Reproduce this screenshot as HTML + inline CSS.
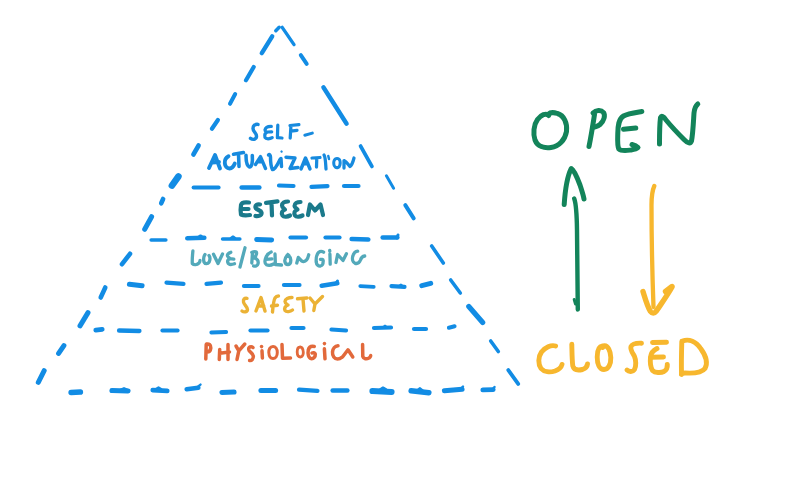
<!DOCTYPE html>
<html><head><meta charset="utf-8"><title>Pyramid open closed</title>
<style>
html,body{margin:0;padding:0;background:#fff;}
body{width:800px;height:483px;overflow:hidden;font-family:"Liberation Sans",sans-serif;}
svg{display:block;}
</style></head>
<body>
<svg width="800" height="483" viewBox="0 0 800 483">
<rect width="800" height="483" fill="#ffffff"/>
<g fill="none" stroke="#128ce4" stroke-linecap="round" stroke-linejoin="round">
<path d="M279.2,27.3L275.8,30.7" stroke-width="3.5"/>
<path d="M272.2,36.4L261.8,53.1" stroke-width="4.4"/>
<path d="M253.7,67.0L246.0,80.3" stroke-width="4.2"/>
<path d="M235.2,94.0L230.0,103.8" stroke-width="4.0"/>
<path d="M217.9,120.0L211.9,128.8" stroke-width="4.2"/>
<path d="M198.6,145.5L193.4,154.5" stroke-width="4.6"/>
<path d="M178.4,176.5L171.9,185.6" stroke-width="6.6"/>
<path d="M163.1,199.0L161.2,203.3" stroke-width="4.6"/>
<path d="M151.6,216.7L144.7,229.3" stroke-width="5"/>
<path d="M130.0,253.8L122.0,264.2" stroke-width="4.6"/>
<path d="M105.3,287.5L100.7,297.5" stroke-width="4.6"/>
<path d="M88.0,312.6L80.0,325.9" stroke-width="5"/>
<path d="M63.9,345.6L58.6,353.4" stroke-width="5"/>
<path d="M44.2,370.7L38.3,382.3" stroke-width="5"/>
<path d="M282.2,27.4L294.0,44.6" stroke-width="3.4"/>
<path d="M300.8,55.2L306.7,63.8" stroke-width="4"/>
<path d="M323.4,87.3L346.6,123.7" stroke-width="4.4"/>
<path d="M360.6,146.1L371.9,166.4" stroke-width="3.8"/>
<path d="M386.4,175.8L393.6,188.2" stroke-width="3"/>
<path d="M405.3,205.2L413.7,218.3" stroke-width="4"/>
<path d="M431.7,246.0L443.3,263.0" stroke-width="3.6"/>
<path d="M450.7,280.0L460.3,293.0" stroke-width="3.6"/>
<path d="M468.8,306.5L482.7,322.5" stroke-width="5.2"/>
<path d="M490.7,341.0L498.3,351.5" stroke-width="3.6"/>
<path d="M508.3,370.1L518.2,383.9" stroke-width="3.8"/>
<path d="M193.6,187.5L218.6,187.5" stroke-width="4.0"/>
<path d="M241.7,187.5L259.3,187.5" stroke-width="4.6"/>
<path d="M279.0,185.5L293.5,186.0" stroke-width="4.2"/>
<path d="M311.5,186.9L327.5,186.1" stroke-width="4.2"/>
<path d="M344.0,186.0L358.5,186.0" stroke-width="4.2"/>
<path d="M151.1,240.0L165.9,240.0" stroke-width="3.4"/>
<path d="M187.3,238.3L204.3,237.8" stroke-width="4.6"/>
<path d="M222.6,239.0L239.8,239.0" stroke-width="3.6"/>
<path d="M256.7,239.4L271.6,239.9" stroke-width="5.0"/>
<path d="M290.5,237.5L306.0,237.5" stroke-width="4.2"/>
<path d="M325.5,237.5L339.5,237.5" stroke-width="4.2"/>
<path d="M351.7,239.0L368.3,239.5" stroke-width="4.6"/>
<path d="M382.7,237.5L397.3,237.5" stroke-width="4.6"/>
<path d="M129.4,284.2L142.1,285.8" stroke-width="5"/>
<path d="M166.5,282.6L183.5,283.9" stroke-width="4.2"/>
<path d="M206.5,283.9L221.0,282.6" stroke-width="4.2"/>
<path d="M243.8,286.0L258.7,286.0" stroke-width="3.8"/>
<path d="M283.8,285.0L299.7,285.0" stroke-width="3.8"/>
<path d="M321.7,285.7L337.3,283.3" stroke-width="4.6"/>
<path d="M360.2,286.1L373.8,286.9" stroke-width="3.6"/>
<path d="M391.5,286.1L404.5,286.9" stroke-width="4.2"/>
<path d="M421.8,285.6L430.7,283.4" stroke-width="5"/>
<path d="M95.8,330.2L102.2,329.3" stroke-width="4.8"/>
<path d="M119.1,330.5L139.4,331.0" stroke-width="4.4"/>
<path d="M162.3,330.5L177.7,330.5" stroke-width="3.8"/>
<path d="M211.3,332.5L226.2,332.0" stroke-width="3.8"/>
<path d="M250.5,330.5L267.5,330.5" stroke-width="4.2"/>
<path d="M291.5,328.0L303.5,328.0" stroke-width="4.2"/>
<path d="M331.4,329.6L346.1,330.4" stroke-width="4"/>
<path d="M374.0,328.0L391.0,327.5" stroke-width="4.2"/>
<path d="M414.0,329.0L426.0,329.0" stroke-width="4.2"/>
<path d="M448.9,327.7L454.6,326.3" stroke-width="4"/>
<path d="M71.1,392.4L80.4,392.1" stroke-width="5.5"/>
<path d="M111.9,390.5L128.1,391.0" stroke-width="5"/>
<path d="M152.7,390.1L167.3,390.9" stroke-width="4.6"/>
<path d="M186.7,389.3L198.3,387.7" stroke-width="4.6"/>
<path d="M221.9,392.4L234.1,392.1" stroke-width="5"/>
<path d="M260.9,390.5L275.6,390.5" stroke-width="5"/>
<path d="M299.1,389.6L317.4,390.9" stroke-width="4.4"/>
<path d="M332.6,390.5L347.4,390.5" stroke-width="4.4"/>
<path d="M372.4,391.1L391.6,391.9" stroke-width="6"/>
<path d="M411.1,390.7L428.9,392.8" stroke-width="5.4"/>
<path d="M444.4,390.8L462.1,389.2" stroke-width="5"/>
<path d="M482.7,389.9L493.3,389.6" stroke-width="4.6"/>
<path d="M397,238L398,235" stroke-width="3"/>
<path d="M336,283.5L337.5,281" stroke-width="3"/>
<path d="M198,237.2L200.5,235.6L202.5,237" stroke-width="2.4"/>
<path d="M231,238L233,236.6L235,238" stroke-width="2.4"/>
<path d="M383,327.5L385,325.8L387,327.5" stroke-width="2.4"/>
<path d="M380,389.5L383,387.6L386,389.3" stroke-width="2.4"/>
<path d="M460.5,389L463,386.5" stroke-width="2.4"/>
<path d="M492.5,389.5L494.5,387" stroke-width="2.4"/>
<path d="M121,389.5L124,388.3L127,389.5" stroke-width="2.4"/>
<path d="M156,389L158.5,387.5L161,389" stroke-width="2.4"/>
<path d="M417.5,390.3L420,388.3L422.5,390.5" stroke-width="2.4"/>
<path d="M198.5,386.2L200.5,384.6" stroke-width="2.4"/>
<path d="M399,286.3L401,284.8L403,286.5" stroke-width="2.4"/>
</g>
<g fill="none" stroke-linecap="round" stroke-linejoin="round">
<path d="M258,124.4 C255,124 253,125.5 253,128.5 C253,131.5 256.3,133 256.5,136 C256.7,139 253.5,140.5 250.5,138.3" stroke="#178ade" stroke-width="3.45" />
<path d="M271.3,126.4 C268,126.3 265.5,127.5 265,129.8 C264.8,131.3 266.5,132 267.5,132 C265,133 264.3,135 265,137.5 C266,139.3 270,139 272.2,137.7 M267.5,132 L271.7,131.8" stroke="#178ade" stroke-width="3.25" />
<path d="M277.8,125.2 L277.4,137.7 L282,138" stroke="#178ade" stroke-width="3.25" />
<path d="M290.9,126.5 L290.2,138 M290,125.5 L298.9,124.6 M290.9,131.1 L297,130.3" stroke="#178ade" stroke-width="3.25" />
<path d="M304.8,135.2 L312.3,133.1" stroke="#178ade" stroke-width="3.05" />
<path d="M209,168 L215,155 L220,168.5 M212,162.5 L219,162" stroke="#178ade" stroke-width="3.85" />
<path d="M228.5,156.2 C226,157.5 224.6,160 224.8,163 C225,166.5 227,168.5 229.5,168.5 C232,168.3 233.8,166 234.8,163.5" stroke="#178ade" stroke-width="3.85" />
<path d="M233.5,154.2 L243.5,152.6 M238.5,153.8 L239,166.5" stroke="#178ade" stroke-width="3.55" />
<path d="M246,155.3 C246,161 246.5,166 249.5,167 C252,167 252.8,162 252.3,155.5" stroke="#178ade" stroke-width="3.55" />
<path d="M255.5,164.5 L260.5,156.6 L265.5,168.5 M257.8,161.8 L262.6,161.5" stroke="#178ade" stroke-width="3.35" />
<path d="M268.5,155 C269.5,154 270.5,155 270.5,157 C270.5,161 271,167 272.5,169.5 C274,170 276.5,167 280,159.5" stroke="#178ade" stroke-width="3.45" />
<path d="M281,158.5 L281.5,166.5" stroke="#178ade" stroke-width="3.45" />
<path d="M281.5,151.5 L281.6,151.6" stroke="#178ade" stroke-width="2.25" />
<path d="M286,157.2 L295,158 L290,168.5 L298,167.5" stroke="#178ade" stroke-width="3.45" />
<path d="M301,169 L305.5,158 L310,169 M303,164 L308,163.5" stroke="#178ade" stroke-width="3.45" />
<path d="M312,158 L320,157.5 M316.8,158 L316.5,167" stroke="#178ade" stroke-width="3.25" />
<path d="M324,155 C325.5,157 325.5,162 326,169" stroke="#178ade" stroke-width="3.25" />
<path d="M328.3,156 L329,159" stroke="#178ade" stroke-width="2.45" />
<path d="M337,158.5 C334,158.5 333.5,162 333.8,164 C334,167 336,168 338,167.5 C340,167 340.5,163 340,161 C339.5,159 338,158.5 337,158.5" stroke="#178ade" stroke-width="3.05" />
<path d="M344,168 L344,160.5 C347,162 349,166 350,166.5 C352,165 353.5,160 354,158" stroke="#178ade" stroke-width="3.25" />
<path d="M249,202.5 C245,202 241.5,202.5 241,205 C240.5,208 240.5,212 241,214.5 C243,215.5 247,215.5 250,215 M242.5,209 L248.5,209" stroke="#1b7a8b" stroke-width="4.2" />
<path d="M260,204.5 C257,204 255,205.5 255.5,207.5 C256,210 261,210 261.5,212.5 C262,215.5 258,216.5 255.5,216" stroke="#1b7a8b" stroke-width="4.2" />
<path d="M266,202.8 L277.5,201.3 M271.5,202.5 L272,215.5" stroke="#1b7a8b" stroke-width="4.2" />
<path d="M288,201.5 C284.5,201.5 282,203 282,205.5 C282,208 285,209 285,209.5 C282,210.5 281,213 282.5,215.5 C284,217.5 288,216.5 290,215.5" stroke="#1b7a8b" stroke-width="4.2" />
<path d="M300.5,202 C297,202 294.5,203.5 294.5,206 C294.5,208 297.5,209 297.5,209.5 C294.5,210.5 293.5,213 295,215.5 C296.5,217.5 300.5,216.5 302.5,215.5" stroke="#1b7a8b" stroke-width="4.2" />
<path d="M308,215 L310,204.5 L315,210.5 L320.5,204.5 L323,215" stroke="#1b7a8b" stroke-width="4.2" />
<path d="M192.9,250.8 C192.5,255 192,260 192.3,263.5 C194,265.3 197,264.8 199,263 C199.8,262 200,261 200,260.5" stroke="#53a9ba" stroke-width="3.3" />
<path d="M205,254.5 C203.5,256.5 203.5,260 204,262 C205,264.3 207.8,264.2 209.2,262 C210.2,259.5 209.8,256.5 209,255.5" stroke="#53a9ba" stroke-width="3.3" />
<path d="M213.5,254.2 L218,263.5 L222.5,254" stroke="#53a9ba" stroke-width="3.3" />
<path d="M230.8,252.3 C228.5,253 227,254.5 227.5,256 C228,257.5 230,258.3 230,258.5 C228,259.5 227.3,261 227.8,262.5 C228.5,264.5 231,265 234.5,263.8 M230,258.7 L233.8,259.2" stroke="#53a9ba" stroke-width="3.3" />
<path d="M245,247.8 L240,267" stroke="#53a9ba" stroke-width="3.3" />
<path d="M252.5,252.3 L251.8,263 M251.8,252.5 C253.5,251.5 256.6,250.8 256.6,253 C256.6,255.5 255,257 254,257.8 C257,258.5 258.8,261 258,263.8 C257.5,266 255,266.5 253.6,266" stroke="#53a9ba" stroke-width="3.3" />
<path d="M271.2,252 C268.5,253 266.5,255.5 265.5,258.5 C264.6,261.5 265,264 266.5,264.8 C268,265.5 271,265.5 273.5,264 M266,259.3 L272,258.9" stroke="#53a9ba" stroke-width="3.3" />
<path d="M275,254 L275.4,264.5 L281.5,265" stroke="#53a9ba" stroke-width="3.3" />
<path d="M287.8,254.5 C286,256.5 284.6,259 284.8,261 C285,263.5 286.5,264.5 288,264.5 C289.8,264.3 290.9,262.5 290.8,260 C290.7,258 289.5,256 287.8,254.5" stroke="#53a9ba" stroke-width="3.3" />
<path d="M296.8,263 L298.3,257.4 C299.5,258.5 301.5,261.8 303.5,261.6 C306,261.3 308,258 308.7,254.8" stroke="#53a9ba" stroke-width="3.3" />
<path d="M323.6,252.2 C322,251.2 320,251.3 318.5,252.5 C316.5,254.5 316,258.5 316.2,262 C316.5,265 318.5,266.3 320.5,266 C322.5,265.6 323.3,263 323.2,260.5 C323,259.3 321.5,259.2 320.5,259.4" stroke="#53a9ba" stroke-width="3.3" />
<path d="M329.9,254 L330.2,264.2 M329.7,250.4 L329.8,251.2" stroke="#53a9ba" stroke-width="3.3" />
<path d="M336,262.5 L337.6,254.5 L343,260.5 L346.4,253.8" stroke="#53a9ba" stroke-width="3.3" />
<path d="M357.7,251.2 C355.8,251.3 353.5,253.5 352.7,256.5 C352,259.5 353,262.5 355,263.3 C357.5,264 359.5,262.5 360.5,260 C361,258 361.5,256.5 364.7,256" stroke="#53a9ba" stroke-width="3.3" />
<path d="M247,298.3 C244.5,297.8 243,299.5 243.5,302 C244,305 247.5,306.5 247.5,309.5 C247.5,312 244,312.5 242,311" stroke="#ebb235" stroke-width="3.4" />
<path d="M256,311 L261,297.5 L265,311 M258.3,306 L263.8,306" stroke="#ebb235" stroke-width="3.4" />
<path d="M272.5,312 C273,306 273.5,300.5 275,298 C276,296.5 277.5,296 278.5,296 M271.5,306 L277.5,305.3" stroke="#ebb235" stroke-width="3.4" />
<path d="M292,297.5 C288.5,297.5 285,299 285,301.5 C285,303.5 287.5,304.5 288,305 C285,306 284,308.5 285,310.5 C286.5,312.5 290.5,311.5 292.5,310" stroke="#ebb235" stroke-width="3.4" />
<path d="M297.5,298.8 L307,298 M303,299 L304,311" stroke="#ebb235" stroke-width="3.4" />
<path d="M310,298 L315,304 L322.5,296.5 M315,304 L313.8,310.5" stroke="#ebb235" stroke-width="3.4" />
<path d="M206.2,344.5 L205.8,359 M206.5,344 C209,343.5 211,345 210.8,348 C210.5,351 208.5,352 207,352" stroke="#e2693b" stroke-width="3.5" />
<path d="M219.7,349.5 L219.3,359.5 M228,344.5 L228,359.5 M219.7,353.2 L229.5,352" stroke="#e2693b" stroke-width="3.5" />
<path d="M236,346 L238.8,350.8 L244.8,344 M238.8,350.8 L237,359.5" stroke="#e2693b" stroke-width="3.5" />
<path d="M253,347.5 C251,345.8 248.5,347 248.7,349.5 C249,352 253,353 253.3,356 C253.6,359 251.5,361 249.6,360.5" stroke="#e2693b" stroke-width="3.5" />
<path d="M262,350.8 L262.4,358 M261.5,346.5 L261.6,346.6" stroke="#e2693b" stroke-width="3.5" />
<path d="M273,346.5 C270,346.5 268.7,349.5 268.8,352.5 C269,356 270.5,358.5 273,358.5 C275.5,358.5 277.3,356 277.3,352.5 C277.3,349 275.5,346.5 273,346.5" stroke="#e2693b" stroke-width="3.0" />
<path d="M282,344.5 L282.5,358.3 L290.5,358" stroke="#e2693b" stroke-width="3.5" />
<path d="M300.2,347 C298,347 297.2,349.5 297.2,352 C297.2,355 298.5,357 300.5,357 C302.5,357 303.5,354.5 303.3,352 C303,349 301.8,347 300.2,347" stroke="#e2693b" stroke-width="2.8" />
<path d="M314.3,346.5 C311.5,346 309,347 308.3,350 C307.5,354 308.5,358 311,358.6 C313.5,359 315.5,357 315.3,354 C315,352.5 313,352.5 312,353" stroke="#e2693b" stroke-width="3.5" />
<path d="M324.4,348.8 L325,358.8 M324.4,343.5 L324.5,343.6" stroke="#e2693b" stroke-width="3.5" />
<path d="M338,345.8 C335,346 332.8,348.5 332.5,352 C332.2,356 334.5,359 337.5,359 C339.5,359 341,358 341.5,357.5" stroke="#e2693b" stroke-width="3.5" />
<path d="M342.5,357 L348,349.8 L352.8,357" stroke="#e2693b" stroke-width="3.5" />
<path d="M362.6,344.5 L362.8,356.5 C363.5,359 366.5,359.3 369,358 C370.3,357 370.8,356 370.6,355.5" stroke="#e2693b" stroke-width="3.5" />
<path d="M548.8,115.5 C546,112.5 541,115 537.5,119.5 C533.5,125 533,134 535,140 C537.5,146.5 544,148.5 551,147.5 C559,146.5 565,140 566.5,131.5 C567.5,123 564,115.5 557.5,113.5 C553,112 549.5,113 548.5,114" stroke="#13845a" stroke-width="5.0" />
<path d="M594.5,114.5 C593,124 591.5,134 589,146.5" stroke="#13845a" stroke-width="5.0" />
<path d="M593,113 C596,110 601,109.5 603.5,112.5 C605.5,115.5 604,121 600,124.5 C597.5,126.5 594,127.5 592.8,127" stroke="#13845a" stroke-width="5.0" />
<path d="M641.8,111.5 C636,112.5 628,113.5 623.5,116 C618.5,119 618,126 617.8,133 C617.6,140 617.2,145.5 618.8,149 C621.5,151.5 627,150.5 631,150 C634,149.5 637,148.5 638,147.5 C636.5,146 634,145 632,144.5" stroke="#13845a" stroke-width="5.0" />
<path d="M623.5,129.2 L635.8,128" stroke="#13845a" stroke-width="5.0" />
<path d="M659.5,144 C659.5,136 659.5,125 660.5,117.5 C661.5,115.5 663.5,116 666,120 C671,126 678,133.5 684,139.5 C688,143.5 690.5,144 691.5,141 C693,133 693.5,120 694,113 C694.5,108 696,105.5 697.8,104" stroke="#13845a" stroke-width="5.0" />
<path d="M577.8,309.5 C577.5,290 577.2,260 577,230 C576.8,215 576.5,205 574.2,198.5" stroke="#13845a" stroke-width="4.4" />
<path d="M564.2,204.5 C565,192 567.5,176 571.2,168.5 C574,170 577,177 580,185 C582,191 583.5,196 584,199" stroke="#13845a" stroke-width="5.0" />
<path d="M574.2,299.5 L575.5,304" stroke="#13845a" stroke-width="3" />
<path d="M654.3,186 C652.5,190 651.5,195 651.5,205 C651.5,240 652.5,280 653.5,307" stroke="#f7b72e" stroke-width="4.3" />
<path d="M643,291.5 C645,298 647.5,307 650.5,311.5 C652,313.5 654.5,313.5 656,311.5 C661,304 667,296 672,287 M665.5,291.5 L672,286.5" stroke="#f7b72e" stroke-width="5.4" />
<path d="M555.6,346 C551,344.5 545,347.5 541.5,352 C538,357 538,364 541,368.5 C544,372 550,372.5 555,371 C559,369.5 561.5,366.5 562,364.5" stroke="#f7b72e" stroke-width="4.9" />
<path d="M571.8,344.2 C572,352 572,360 572.8,366 C573.8,370 578,370.5 582.5,369.5 C585.5,368.5 587.3,366 587.5,364" stroke="#f7b72e" stroke-width="4.9" />
<path d="M602.5,346 C599,346.5 597.2,351 597.2,357 C597.2,364 599.5,369.5 604,369.5 C608.5,369.5 611,364 610.8,357.5 C610.5,350.5 608,346 604.5,345.8 C603,345.8 602,346.5 602.5,347.5" stroke="#f7b72e" stroke-width="4.9" />
<path d="M641.5,343.2 C637,343 632.5,343.5 631,346.5 C630,350 633,353.5 634.5,356.5 C636,360 636.3,366 634.5,369.5 C632.5,372.5 628.5,371.5 627,370" stroke="#f7b72e" stroke-width="4.9" />
<path d="M652.5,342.5 L666.5,342.2" stroke="#f7b72e" stroke-width="4.9" />
<path d="M657,348.5 C654,350 651,353 650.5,357 C650,362 650.3,367 652.5,370.5 C655,373 661,373 664,371.5 C666.5,370 667.5,367 667.3,364.5" stroke="#f7b72e" stroke-width="4.9" />
<path d="M651,357.2 L663.5,357" stroke="#f7b72e" stroke-width="4.9" />
<path d="M681.8,341.5 C681.5,352 681.2,362 681.5,373.5" stroke="#f7b72e" stroke-width="4.9" />
<path d="M682.5,341 C689,338.5 696,341.5 701,349 C706,356 708,363 705,368.5 C701.5,373 693,373.5 685,373 C683,373 681.8,373.5 681.5,374.5" stroke="#f7b72e" stroke-width="4.9" />
</g>
</svg>
</body></html>
